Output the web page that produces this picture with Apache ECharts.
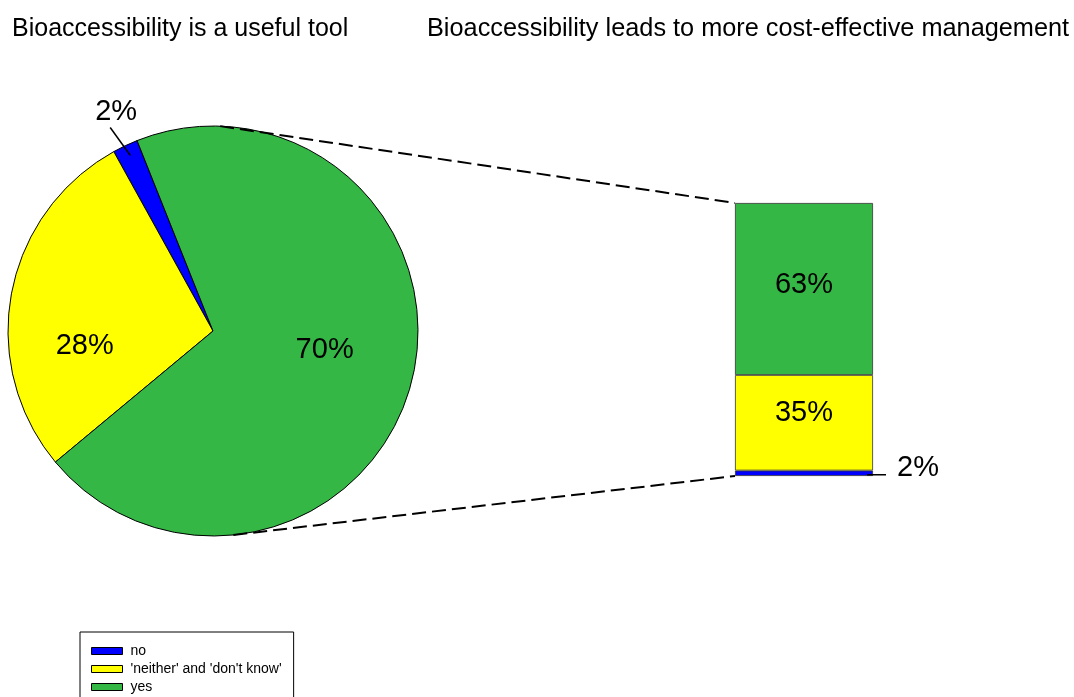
<!DOCTYPE html>
<html>
<head>
<meta charset="utf-8">
<script src="https://cdn.jsdelivr.net/npm/echarts@6/dist/echarts.min.js"></script>
<style>
  html, body { margin: 0; padding: 0; background: #fff; }
  #main { width: 1074px; height: 697px; }
</style>
</head>
<body>
<div id="main"></div>
<script>
// answer categories (legend order)
const categories = ['no', "'neither' and 'don't know'", 'yes']
// percentages: pie = "useful tool", bar = "cost-effective management"
const usefulToolPct = [2, 28, 70]
const costEffectivePct = [2, 35, 63]
const colors = ['#0000FF', '#FFFF00', '#34B745']

// layout
const FONT = 'Liberation Sans, Arial, Helvetica, sans-serif'
const pieCenter = [213, 331]
const pieRadius = 205
const pieStart = 111.75
// label placement around the pie centre: [radius, angle in degrees]
const pieLabelPolar = [[241, 113.7], [129, 185.8], [113, 351.1]]
const barGrid = { left: 735, top: 203, width: 138, height: 273 }

function polar(r, deg) {
  const a = deg * Math.PI / 180
  return [pieCenter[0] + r * Math.cos(a), pieCenter[1] - r * Math.sin(a)]
}

const chart = echarts.init(document.getElementById('main'), null, { renderer: 'canvas' })

const barLabelOffsets = [[0, -5], [0, -10], [0, -4]]
const barSeries = categories.map((name, i) => ({
  name: name,
  type: 'bar',
  stack: 'total',
  barWidth: '100%',
  data: [costEffectivePct[i]],
  itemStyle: { color: colors[i], borderColor: '#333', borderWidth: 0.8 },
  label: {
    show: true,
    position: i === 0 ? 'right' : 'inside',
    distance: 24,
    offset: barLabelOffsets[i],
    formatter: '{c}%',
    color: '#000',
    fontSize: 29,
    fontFamily: FONT
  },
  emphasis: { disabled: true }
}))

chart.setOption({
  animation: false,
  color: colors,
  title: [
    {
      text: 'Bioaccessibility is a useful tool',
      left: 12, top: 17, padding: 0,
      textStyle: { fontSize: 25, fontWeight: 'normal', color: '#000', fontFamily: FONT }
    },
    {
      text: 'Bioaccessibility leads to more cost-effective management',
      left: 427, top: 17, padding: 0,
      textStyle: { fontSize: 25.3, fontWeight: 'normal', color: '#000', fontFamily: FONT }
    }
  ],
  legend: {
    orient: 'vertical',
    left: 80,
    top: 632,
    width: 213,
    height: 80,
    data: categories,
    icon: 'rect',
    itemWidth: 31,
    itemHeight: 7,
    itemGap: 0,
    padding: [10, 12, 20, 11],
    borderColor: '#000',
    borderWidth: 1,
    selectedMode: false,
    itemStyle: { borderColor: '#000', borderWidth: 1 },
    textStyle: { fontSize: 14, lineHeight: 18, color: '#000', fontFamily: FONT, padding: [0, 0, 0, 3] }
  },
  grid: barGrid,
  xAxis: { type: 'category', data: ['bar'], show: false },
  yAxis: { type: 'value', min: 0, max: 100, show: false },
  series: [
    {
      name: 'useful',
      type: 'pie',
      center: pieCenter,
      radius: pieRadius,
      startAngle: pieStart,
      clockwise: false,
      avoidLabelOverlap: false,
      emphasis: { disabled: true },
      itemStyle: { borderColor: '#000', borderWidth: 1 },
      label: {
        show: true,
        position: 'inside',
        formatter: '{c}%',
        color: '#000',
        fontSize: 29,
        fontFamily: FONT
      },
      labelLine: { show: false },
      labelLayout: function (params) {
        const p = pieLabelPolar[params.dataIndex]
        const xy = polar(p[0], p[1])
        return { x: xy[0], y: xy[1] + 2, align: 'center', verticalAlign: 'middle' }
      },
      data: categories.map((name, i) => ({ name: name, value: usefulToolPct[i] }))
    }
  ].concat(barSeries)
})

// connector lines between the pie and the stacked bar, and the leaders for the small segments
const barTop = chart.convertToPixel({ yAxisIndex: 0 }, 100)
const barBottom = chart.convertToPixel({ yAxisIndex: 0 }, 0)
const smallMid = chart.convertToPixel({ yAxisIndex: 0 }, costEffectivePct[0] / 2)
const barRight = barGrid.left + barGrid.width
const pTop = polar(pieRadius, 88)
const pBottom = polar(pieRadius, -84.3)
const leadIn = polar(194, 115.2)
const leadOut = polar(228, 116.8)
const dash = { stroke: '#000', lineWidth: 2, lineDash: [14, 6] }
const solid = { stroke: '#000', lineWidth: 1.5 }

chart.setOption({
  graphic: [
    { type: 'line', z: 100, silent: true, shape: { x1: pTop[0], y1: pTop[1], x2: barGrid.left, y2: barTop }, style: dash },
    { type: 'line', z: 100, silent: true, shape: { x1: pBottom[0], y1: pBottom[1], x2: barGrid.left, y2: barBottom }, style: dash },
    { type: 'line', z: 100, silent: true, shape: { x1: leadIn[0], y1: leadIn[1], x2: leadOut[0], y2: leadOut[1] }, style: solid },
    { type: 'line', z: 100, silent: true, shape: { x1: barRight - 6, y1: smallMid + 1.5, x2: barRight + 13, y2: smallMid + 1.5 }, style: solid }
  ]
})
</script>
</body>
</html>
